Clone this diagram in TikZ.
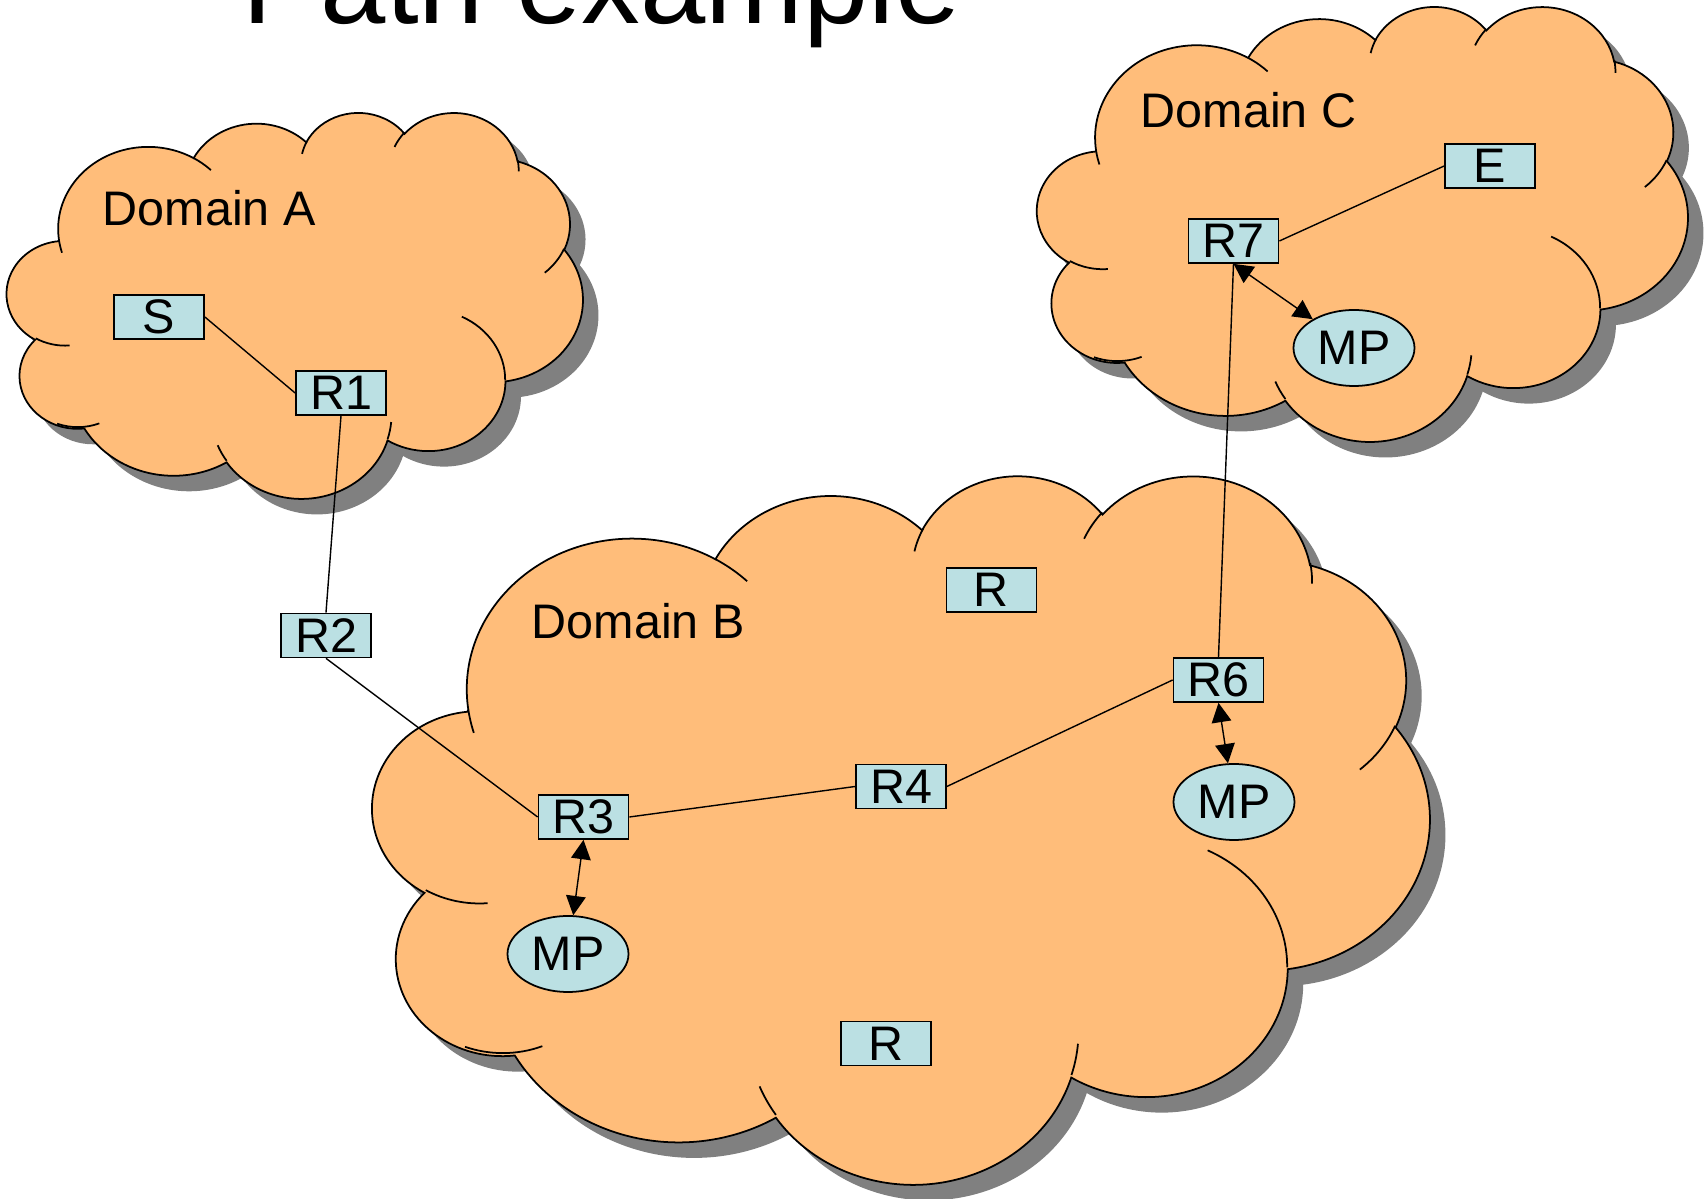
\documentclass[tikz,border=0pt]{standalone}
\usepackage{fontspec}
\setmainfont{Liberation Sans}
\usepackage{xcolor}
\definecolor{cloudorange}{RGB}{255, 189, 122}
\definecolor{routerblue}{RGB}{187, 224, 227}
\definecolor{shadowgray}{RGB}{128, 128, 128}
\usepackage{tikz}
\usetikzlibrary{shapes, arrows.meta, positioning}

\begin{document}
\begin{tikzpicture}[>={Triangle[length=5.5pt, width=5.6pt]}, yscale=-1,
        router/.style={draw, fill=routerblue, line width=0.5pt, minimum width=0.9cm, minimum height=0.44cm, inner sep=0pt, font=\fontsize{13.8}{16}\selectfont},
        probe/.style={ellipse, draw, fill=routerblue, line width=0.5pt, minimum width=1.21cm, minimum height=0.76cm, inner sep=0pt, font=\fontsize{13.8}{16}\selectfont},
        domainlabel/.style={anchor=base west, inner sep=0pt, font=\fontsize{13.8}{16}\selectfont},
        link/.style={line width=0.4pt}]

    \useasboundingbox (0,0) rectangle (17.05,11.99);
    \clip (0,0) rectangle (17.05,11.99);

    % Title, cut off by the top edge
    \node[anchor=base west, inner sep=0pt, font=\fontsize{33.4}{40}\selectfont] (title) at (2.42,0.235) {Path example};

    % Clouds: left/top/width/height, shadow first
    \foreach \cx/\cy/\cw/\ch in {0.07/1.117/5.757/3.858, 10.373/0.056/6.504/4.348, 3.729/4.74/10.566/7.083} {
        \begin{scope}[shift={(\cx+0.155,\cy+0.155)}, xscale=\cw/43.2, yscale=\ch/43.2]
            \fill[shadowgray] (3.9,14.37)
                \foreach \ts/\te/\rx/\ry in {172.25/300.36/6.753/9.19, -152.03/-45.45/5.333/7.267,
                    -153.49/-37.33/4.365/5.945, -139.70/-10.21/4.857/6.595, -74.77/23.21/5.333/7.273,
                    -37.53/81.86/6.775/9.22, 0.46/121.99/5.785/7.867, 16.84/146.25/6.752/9.215,
                    58.99/150.19/7.72/10.543, 83.31/223.09/4.36/5.918, 120.35/264.11/4.345/5.945}
                {arc[start angle=\ts, end angle=\te, x radius=\rx, y radius=\ry]} -- cycle;
        \end{scope}
        \begin{scope}[shift={(\cx,\cy)}, xscale=\cw/43.2, yscale=\ch/43.2]
            \filldraw[fill=cloudorange, line width=0.5pt] (3.9,14.37)
                \foreach \ts/\te/\rx/\ry in {172.25/300.36/6.753/9.19, -152.03/-45.45/5.333/7.267,
                    -153.49/-37.33/4.365/5.945, -139.70/-10.21/4.857/6.595, -74.77/23.21/5.333/7.273,
                    -37.53/81.86/6.775/9.22, 0.46/121.99/5.785/7.867, 16.84/146.25/6.752/9.215,
                    58.99/150.19/7.72/10.543, 83.31/223.09/4.36/5.918, 120.35/264.11/4.345/5.945}
                {arc[start angle=\ts, end angle=\te, x radius=\rx, y radius=\ry]} -- cycle;
            % inner strokes
            \foreach \px/\py/\ts/\te/\rx/\ry in {4.693/26.177/85.55/120.35/4.345/5.945,
                6.928/34.899/68.24/110.77/4.36/5.918, 16.478/39.09/146.25/158.47/6.752/9.215,
                28.827/34.751/4.74/16.84/6.752/9.215, 34.129/22.954/-64.03/0.46/5.785/7.867,
                41.798/15.354/23.21/49.63/5.333/7.273, 38.324/5.426/-10.21/0.82/4.857/6.595,
                29.078/3.952/-156.29/-139.70/4.857/6.595, 22.141/4.72/-167.72/-153.49/4.365/5.945,
                14/5.192/-59.64/-45.73/6.753/9.19, 4.127/15.789/163.19/172.25/6.753/9.19} {
                \draw[line width=0.5pt] (\px,\py) arc[start angle=\ts, end angle=\te, x radius=\rx, y radius=\ry];
            }
        \end{scope}
    }

    % Domain names
    \node[domainlabel] (domA) at (1.02,2.26) {Domain A};
    \node[domainlabel] (domB) at (5.31,6.39) {Domain B};
    \node[domainlabel] (domC) at (11.40,1.28) {Domain C};

    % Routers
    \node[router] (S) at (1.59,3.17) {S};
    \node[router] (R1) at (3.41,3.93) {R1};
    \node[router] (R2) at (3.26,6.355) {R2};
    \node[router] (R3) at (5.835,8.17) {R3};
    \node[router] (R4) at (9.01,7.865) {R4};
    \node[router] (R6) at (12.185,6.80) {R6};
    \node[router] (R7) at (12.335,2.41) {R7};
    \node[router] (E) at (14.90,1.66) {E};
    \node[router] (Rtop) at (9.915,5.90) {R};
    \node[router] (Rbot) at (8.86,10.435) {R};

    % Measurement points
    \node[probe] (MP3) at (5.68,9.54) {MP};
    \node[probe] (MP6) at (12.34,8.02) {MP};
    \node[probe] (MP7) at (13.54,3.48) {MP};

    % Links
    \draw[link] (S.east) -- (R1.west);
    \draw[link] (R1.south) -- (R2.north);
    \draw[link] (R2.south) -- (R3.west);
    \draw[link] (R3.east) -- (R4.west);
    \draw[link] (R4.east) -- (R6.west);
    \draw[link] (R6.north) -- (R7.south);
    \draw[link] (R7.east) -- (E.west);

    % Arrows to measurement points
    \draw[link, <->] (R3.south) -- (MP3);
    \draw[link, <->] (R6.south) -- (MP6);
    \draw[link, <->] (R7.south) -- (MP7);
\end{tikzpicture}
\end{document}
